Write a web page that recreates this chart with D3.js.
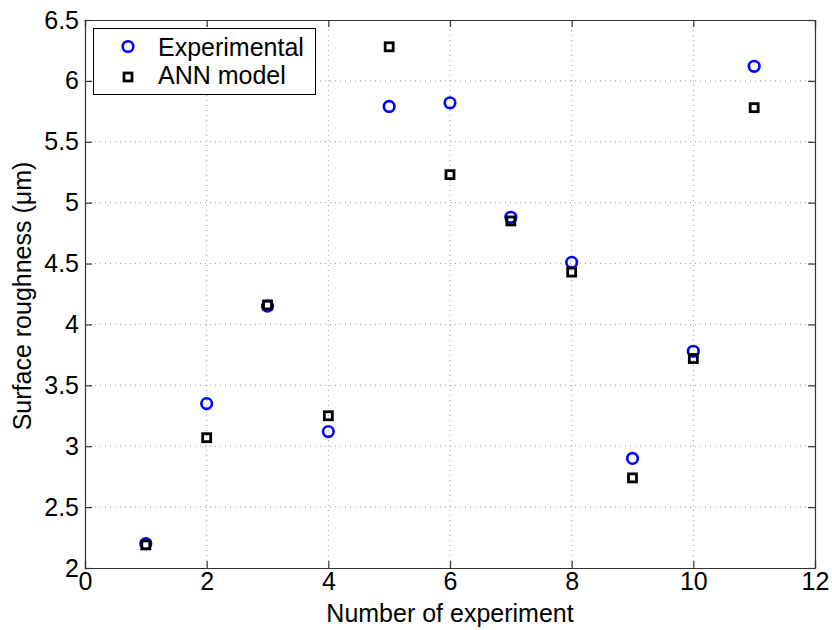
<!DOCTYPE html>
<html><head><meta charset="utf-8">
<script src="https://cdn.jsdelivr.net/npm/d3@7"></script>
<style>body{margin:0;background:#fff}svg{display:block}text{font-family:"Liberation Sans",Arial,sans-serif}</style>
</head><body>
<svg id="c" width="832" height="630"></svg>
<script>
const experiments = [1,2,3,4,5,6,7,8,9,10,11];
const experimental = [2.20,3.35,4.15,3.12,5.79,5.82,4.88,4.51,2.90,3.78,6.12];
const annModel = [2.19,3.07,4.16,3.25,6.28,5.23,4.85,4.43,2.74,3.72,5.78];
const xTicks = [0,2,4,6,8,10,12];
const yTicks = [2,2.5,3,3.5,4,4.5,5,5.5,6,6.5];
const seriesNames = ["Experimental","ANN model"];

const svg = d3.select("#c");
const m = {l:85, r:815, t:20, b:568};
const x = d3.scaleLinear().domain([0,12]).range([m.l,m.r]);
const y = d3.scaleLinear().domain([2,6.5]).range([m.b,m.t]);
const fs = 25;

// grid
const g = svg.append("g");
g.selectAll(".gx").data(xTicks.slice(1,-1)).enter().append("line")
  .attr("x1",d=>x(d)).attr("x2",d=>x(d)).attr("y1",m.t).attr("y2",m.b)
  .attr("stroke","#999").attr("stroke-width",1).attr("stroke-dasharray","1,4");
g.selectAll(".gy").data(yTicks.slice(1,-1)).enter().append("line")
  .attr("y1",d=>y(d)).attr("y2",d=>y(d)).attr("x1",m.l).attr("x2",m.r)
  .attr("stroke","#999").attr("stroke-width",1).attr("stroke-dasharray","1,4");

// axes (ticks inside)
const xb = svg.append("g").attr("transform",`translate(0,${m.b})`)
  .call(d3.axisBottom(x).tickValues(xTicks).tickSize(-7).tickPadding(14).tickFormat(d3.format("d")));
const xt = svg.append("g").attr("transform",`translate(0,${m.t})`)
  .call(d3.axisTop(x).tickValues(xTicks).tickSize(-7).tickFormat(""));
const yl = svg.append("g").attr("transform",`translate(${m.l},0)`)
  .call(d3.axisLeft(y).tickValues(yTicks).tickSize(-7).tickPadding(14).tickFormat(d=>String(d)));
const yr = svg.append("g").attr("transform",`translate(${m.r},0)`)
  .call(d3.axisRight(y).tickValues(yTicks).tickSize(-7).tickFormat(""));
[xb,xt,yl,yr].forEach(a=>{
  a.select(".domain").attr("stroke","#333").attr("stroke-width",1.2);
  a.selectAll(".tick line").attr("stroke","#333").attr("stroke-width",1.2);
  a.selectAll("text").attr("font-size",fs).attr("fill","#000").attr("font-family","Liberation Sans, Arial, sans-serif");
});
xb.selectAll("text").attr("dy","0.71em").attr("y",4);
yl.selectAll("text").attr("x",-6);

// axis labels
svg.append("text").attr("x",(m.l+m.r)/2).attr("y",622).attr("text-anchor","middle")
  .attr("font-size",fs).text("Number of experiment");
svg.append("text").attr("transform",`translate(31,${(m.t+m.b)/2+2}) rotate(-90)`).attr("text-anchor","middle")
  .attr("font-size",fs).text("Surface roughness (μm)");

// markers
svg.append("g").selectAll("circle").data(experiments).enter().append("circle")
  .attr("cx",(d)=>x(d)).attr("cy",(d,i)=>y(experimental[i])).attr("r",5.3)
  .attr("fill","none").attr("stroke","#0000ff").attr("stroke-width",2.6);
const s = 8;
svg.append("g").selectAll("rect").data(experiments).enter().append("rect")
  .attr("x",d=>x(d)-s/2).attr("y",(d,i)=>y(annModel[i])-s/2).attr("width",s).attr("height",s)
  .attr("fill","none").attr("stroke","#000").attr("stroke-width",2.8);

// legend
const lg = svg.append("g");
lg.append("rect").attr("x",93.5).attr("y",28.5).attr("width",222).attr("height",66)
  .attr("fill","#fff").attr("stroke","#000").attr("stroke-width",1);
lg.append("circle").attr("cx",128).attr("cy",46.5).attr("r",5.3).attr("fill","none")
  .attr("stroke","#0000ff").attr("stroke-width",2.6);
lg.append("rect").attr("x",128-s/2).attr("y",77-s/2).attr("width",s).attr("height",s)
  .attr("fill","none").attr("stroke","#000").attr("stroke-width",2.8);
lg.append("text").attr("x",158).attr("y",55.5).attr("font-size",fs).text(seriesNames[0]);
lg.append("text").attr("x",158).attr("y",84).attr("font-size",fs).text(seriesNames[1]);
</script>
</body></html>
